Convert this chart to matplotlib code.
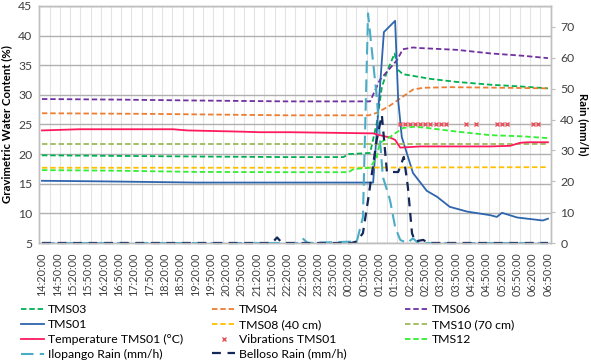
import matplotlib.pyplot as plt
import numpy as np

plt.rcParams['font.family'] = ['Lato', 'DejaVu Sans']

# time axis: minutes after 14:20:00, one category every 10 min
time_labels = ['14:20:00', '14:50:00', '15:20:00', '15:50:00', '16:20:00', '16:50:00',
               '17:20:00', '17:50:00', '18:20:00', '18:50:00', '19:20:00', '19:50:00',
               '20:20:00', '20:50:00', '21:20:00', '21:50:00', '22:20:00', '22:50:00',
               '23:20:00', '23:50:00', '00:20:00', '00:50:00', '01:20:00', '01:50:00',
               '02:20:00', '02:50:00', '03:20:00', '03:50:00', '04:20:00', '04:50:00',
               '05:20:00', '05:50:00', '06:20:00', '06:50:00']

# gravimetric water content (%)
tms03_t = [0, 150, 300, 480, 590, 600, 642, 655, 665, 675, 690, 697, 706, 740, 760, 810, 880, 940, 990]
tms03_v = [19.8, 19.7, 19.6, 19.5, 19.5, 20.0, 20.2, 25.2, 31.3, 33.9, 37.0, 34.2, 33.5, 33.0, 32.7, 32.2, 31.7, 31.4, 31.1]

tms04_t = [0, 200, 480, 640, 656, 681, 706, 726, 746, 800, 900, 990]
tms04_v = [26.9, 26.8, 26.55, 26.55, 27.0, 28.2, 29.7, 30.9, 31.2, 31.3, 31.2, 31.1]

tms06_t = [0, 150, 300, 480, 642, 652, 661, 675, 695, 706, 726, 740, 812, 877, 941, 990]
tms06_v = [29.3, 29.2, 29.05, 28.9, 28.9, 30.8, 32.5, 33.9, 35.9, 37.7, 38.0, 37.9, 37.6, 37.0, 36.6, 36.2]

tms01_t = [0, 120, 300, 480, 648, 669, 691, 697, 704, 726, 753, 773, 798, 832, 877, 890, 900, 930, 980, 990]
tms01_v = [15.5, 15.4, 15.2, 15.2, 15.2, 40.6, 42.5, 29.1, 22.9, 16.8, 13.8, 12.8, 11.1, 10.3, 9.7, 9.4, 10.1, 9.3, 8.8, 9.1]

tms08_t = [0, 500, 990]
tms08_v = [17.7, 17.7, 17.8]

tms10_t = [0, 500, 990]
tms10_v = [21.7, 21.7, 21.7]

tms12_t = [0, 150, 300, 480, 600, 610, 642, 655, 661, 681, 706, 726, 746, 812, 877, 941, 990]
tms12_v = [17.3, 17.2, 17.0, 16.95, 16.95, 17.5, 17.7, 19.5, 21.9, 22.9, 24.4, 24.6, 24.5, 23.8, 23.2, 23.0, 22.7]

temp_t = [0, 74, 256, 284, 387, 426, 485, 648, 661, 681, 691, 701, 740, 877, 916, 935, 949, 990]
temp_v = [24.0, 24.2, 24.2, 24.0, 23.8, 23.7, 23.7, 23.5, 23.2, 22.8, 22.4, 21.1, 21.3, 21.3, 21.4, 21.9, 22.0, 22.0]

vib_t = [700, 710, 720, 730, 740, 750, 760, 770, 780, 790, 830, 850, 890, 900, 910, 960, 970]
vib_v = [25.0, 25.0, 25.0, 25.0, 25.0, 25.0, 25.0, 25.0, 25.0, 25.0, 25.0, 25.0, 25.0, 25.0, 25.0, 25.0, 25.0]

# rain (mm/h)
ilo_t = [0, 500, 510, 520, 616, 628, 638, 655, 667, 675, 681, 691, 701, 714, 726, 736, 990]
ilo_v = [0, 0, 1.5, 0, 0.5, 8.4, 74.4, 47.3, 21.4, 17.2, 13.9, 5.2, 1.0, 0, 1.5, 0, 0]

bel_t = [0, 450, 460, 470, 605, 616, 628, 638, 655, 665, 675, 697, 708, 716, 724, 730, 746, 755, 990]
bel_v = [0, 0, 1.8, 0, 0, 0.5, 3.2, 13.9, 33.4, 41.5, 23.0, 23.0, 27.9, 18.1, 3.2, 0.5, 1.0, 0, 0]

fig = plt.figure(figsize=(5.91, 3.62), dpi=100)
ax = fig.add_axes([39.4 / 591, 1 - 243 / 362, (550.5 - 39.4) / 591, (243 - 6) / 362])
ax2 = ax.twinx()

grid_c = '#BFBFBF'
sd = (0, (3, 1.6))
ax.plot(tms03_t, tms03_v, color='#00B050', lw=1.3, ls=sd, label='TMS03')
ax.plot(tms04_t, tms04_v, color='#ED7D31', lw=1.3, ls=sd, label='TMS04')
ax.plot(tms06_t, tms06_v, color='#7030A0', lw=1.3, ls=sd, label='TMS06')
ax.plot(tms01_t, tms01_v, color='#2E65AD', lw=1.3, label='TMS01')
ax.plot(tms08_t, tms08_v, color='#FFC000', lw=1.3, ls=sd, label='TMS08 (40 cm)')
ax.plot(tms10_t, tms10_v, color='#9BBB59', lw=1.3, ls=sd, label='TMS10 (70 cm)')
ax.plot(temp_t, temp_v, color='#FF1A5E', lw=1.3, label='Temperature TMS01 (°C)')
ax.plot(vib_t, vib_v, ls='none', marker='x', ms=3, mew=1, color='#E8505A', label='Vibrations TMS01')
ax.plot(tms12_t, tms12_v, color='#33EE33', lw=1.3, ls=sd, label='TMS12')

ax2.plot(ilo_t, ilo_v, color='#4BACC6', lw=1.5, ls=(0, (6, 3)), clip_on=False, label='Ilopango Rain (mm/h)')
ax2.plot(bel_t, bel_v, color='#14285A', lw=1.6, ls=(0, (4, 3)), clip_on=False, label='Belloso Rain (mm/h)')

ax.set_xlim(-5, 995)
ax.set_ylim(5, 45)
ax2.set_ylim(0, 76.8)

ax.set_xticks(np.arange(len(time_labels)) * 30)
ax.set_xticklabels(time_labels, rotation=90, fontsize=7.8, color='#404040')
ax.set_xticks(np.arange(15, 995, 20), minor=True)
ax.tick_params(axis='x', which='both', length=0, pad=7)
ax.set_yticks(np.arange(5, 46, 5))
ax.tick_params(axis='y', length=0, pad=5, labelsize=8.8, labelcolor='#404040')
ax.yaxis.grid(True, color='#B0B0B0', lw=1)
ax.xaxis.grid(True, which='minor', color='#E3E3E3', lw=0.8)
ax.set_axisbelow(True)

ax2.set_yticks(np.arange(0, 71, 10))
ax2.tick_params(axis='y', length=3, width=0.8, color=grid_c, pad=4, labelsize=8.8, labelcolor='#404040')

for a in (ax, ax2):
    for s in a.spines.values():
        s.set_color(grid_c)
        s.set_linewidth(1)

ax.set_ylabel('Gravimetric Water Content (%)', fontsize=8.2, fontweight='bold', labelpad=4)
ax2.set_ylabel('Rain (mm/h)', fontsize=8.2, fontweight='bold', rotation=-90, labelpad=10)

h1, l1 = ax.get_legend_handles_labels()
h2, l2 = ax2.get_legend_handles_labels()
hd = dict(zip(l1 + l2, h1 + h2))
cols = [['TMS03', 'TMS01', 'Temperature TMS01 (°C)', 'Ilopango Rain (mm/h)'],
        ['TMS04', 'TMS08 (40 cm)', 'Vibrations TMS01', 'Belloso Rain (mm/h)'],
        ['TMS06', 'TMS10 (70 cm)', 'TMS12']]
col_x = [21, 212, 405]
for cx, names in zip(col_x, cols):
    fig.legend([hd[n] for n in names], names, loc='upper left',
               bbox_to_anchor=(cx / 591, 1 - 304 / 362), frameon=False,
               fontsize=8.8, handlelength=1.9, handletextpad=0.3,
               labelspacing=0.32, borderpad=0, borderaxespad=0)

fig.savefig('out.png', dpi=100)
